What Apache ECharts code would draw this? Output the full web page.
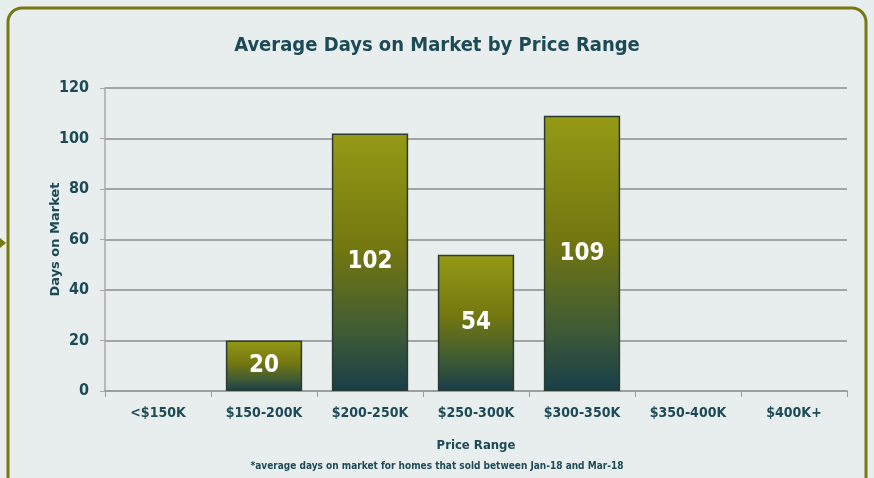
<!DOCTYPE html>
<html>
<head>
<meta charset="utf-8">
<script src="https://cdn.jsdelivr.net/npm/echarts@6/dist/echarts.min.js"></script>
<style>
  html, body { margin: 0; padding: 0; background: #e8eded; }
  #chart { width: 874px; height: 478px; }
</style>
</head>
<body>
<div id="chart"></div>
<script>
// data
const categories = ['<$150K', '$150-200K', '$200-250K', '$250-300K', '$300-350K', '$350-400K', '$400K+']
const daysOnMarket = [null, 20, 102, 54, 109, null, null]
const yTicks = [0, 20, 40, 60, 80, 100, 120]

const teal = '#1c4a56'
const font = "'DejaVu Sans Condensed', 'Liberation Sans', sans-serif"
const plainFont = "'DejaVu Sans', sans-serif"

const chart = echarts.init(document.getElementById('chart'))

// bar fill: olive on top fading to dark teal at the base
const barFill = new echarts.graphic.LinearGradient(0, 0, 0, 1, [
  { offset: 0, color: '#959a16' },
  { offset: 0.45, color: '#737710' },
  { offset: 0.78, color: '#3e5a36' },
  { offset: 1, color: '#183e4a' },
])

chart.setOption({
  backgroundColor: '#e8eded',
  title: {
    text: 'Average Days on Market by Price Range',
    left: 'center',
    top: 31,
    textStyle: { color: teal, fontFamily: font, fontWeight: 'bold', fontSize: 20 },
  },
  graphic: [
    // rounded frame round the chart
    {
      type: 'rect',
      shape: { x: 8, y: 8, width: 858, height: 490, r: 14 },
      style: { fill: 'none', stroke: '#787812', lineWidth: 3 },
      silent: true,
    },
    // small pointer on the left edge
    {
      type: 'polygon',
      shape: { points: [[0, 238], [6, 243], [0, 248]] },
      style: { fill: '#787812' },
      silent: true,
    },
    {
      type: 'text',
      left: 'center',
      top: 461,
      style: {
        text: '*average days on market for homes that sold between Jan-18 and Mar-18',
        fill: teal,
        font: 'bold 10px ' + font,
      },
    },
  ],
  grid: { left: 105, right: 27, top: 88, bottom: 87 },
  xAxis: {
    type: 'category',
    data: categories,
    name: 'Price Range',
    nameLocation: 'middle',
    nameGap: 48,
    nameMoveOverlap: false,
    nameTextStyle: { color: teal, fontFamily: font, fontWeight: 'bold', fontSize: 13 },
    axisLine: { lineStyle: { color: '#9a9a9a', width: 1.5 } },
    axisTick: { show: true, length: 6, lineStyle: { color: '#9a9a9a' } },
    axisLabel: { color: teal, fontFamily: font, fontWeight: 'bold', fontSize: 14, margin: 15 },
  },
  yAxis: {
    type: 'value',
    min: 0,
    max: 120,
    interval: 20,
    name: 'Days on Market',
    nameLocation: 'middle',
    nameGap: 43,
    nameMoveOverlap: false,
    nameTextStyle: { color: teal, fontFamily: plainFont, fontWeight: 'bold', fontSize: 13 },
    axisLine: { show: true, lineStyle: { color: '#a8a8a8', width: 1.5 } },
    axisTick: { show: true, length: 5, inside: false, lineStyle: { color: '#a8a8a8' } },
    axisLabel: {
      color: teal, fontFamily: font, fontWeight: 'bold', fontSize: 16, margin: 16,
      formatter: (v) => (yTicks.includes(v) ? String(v) : ''),
    },
    splitLine: { lineStyle: { color: '#8c8c8c', width: 1.5 } },
  },
  series: [
    {
      type: 'bar',
      data: daysOnMarket,
      barWidth: '72%',
      itemStyle: {
        color: barFill,
        borderColor: '#2b3b30',
        borderWidth: 1.5,
      },
      label: {
        show: true,
        position: 'inside',
        color: '#ffffff',
        fontFamily: font,
        fontWeight: 'bold',
        fontSize: 24,
      },
    },
  ],
})
</script>
</body>
</html>
